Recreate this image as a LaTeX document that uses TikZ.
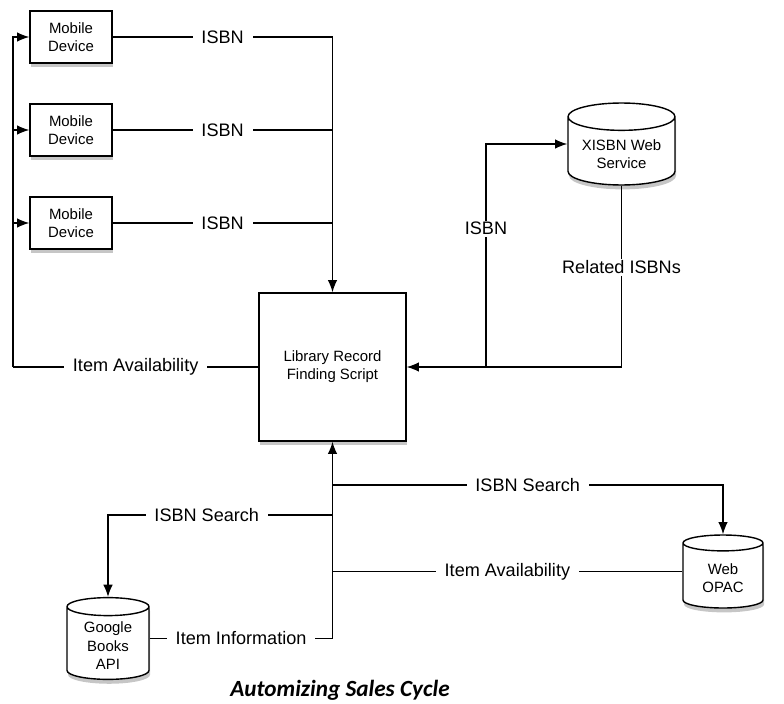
\documentclass[tikz,border=0pt]{standalone}
\usepackage{fontspec}
\setmainfont{Liberation Sans}
\newfontfamily\titlefont{Carlito}
\usetikzlibrary{shapes.geometric,shadows,arrows.meta}

\begin{document}
\begin{tikzpicture}[x=0.02cm, y=-0.02cm, line width=0.8pt,
  >={Latex[length=7pt,width=5.5pt]},
  device/.style = {rectangle, draw, fill=white, minimum width=1.64cm, minimum height=1.04cm,
                   align=center, font=\fontsize{8.5}{10.3}\selectfont,
                   drop shadow={opacity=0.45, shadow xshift=0.6pt, shadow yshift=-2.5pt}},
  scriptbox/.style = {device, minimum width=2.94cm, minimum height=2.96cm},
  store/.style = {cylinder, shape border rotate=90, aspect=0.3, draw, fill=white,
                  anchor=shape center, align=center, font=\fontsize{8.5}{10.3}\selectfont,
                  drop shadow={opacity=0.45, shadow xshift=0.6pt, shadow yshift=-2.5pt}},
  lbl/.style = {fill=white, inner xsep=5pt, inner ysep=1pt, font=\fontsize{10.3}{12}\selectfont},
  ]
  \useasboundingbox (0,0) rectangle (784,703);
  \node[device] (dev1) at (71,37) {Mobile\\Device};
  \node[device] (dev2) at (71,130) {Mobile\\Device};
  \node[device] (dev3) at (71,223) {Mobile\\Device};
  \node[scriptbox] (script) at (332.5,367) {Library Record\\Finding Script};
  \node[store, minimum width=2.14cm, minimum height=1.64cm] (xisbn) at (621.5,144) {XISBN Web\\Service};
  \node[store, minimum width=1.64cm, minimum height=1.58cm] (google) at (108,638.5) {Google\\Books\\API};
  \node[store, minimum width=1.6cm, minimum height=1.46cm] (opac) at (723,571.5) {Web\\OPAC};
  \node (title) at (340,690) {\titlefont\fontsize{13.2}{15}\selectfont\bfseries\itshape Automizing Sales Cycle};

  \coordinate (lft) at (13,367);
  \coordinate (up) at (486,367);
  \coordinate (srch) at (332.5,515);
  \coordinate (opsrch) at (332.5,485);

  \draw[->] (dev1.east) -- node[lbl] {ISBN} (dev1.east -| script.north) -- (script.north);
  \draw (dev2.east) -- node[lbl] {ISBN} (dev2.east -| script.north);
  \draw (dev3.east) -- node[lbl] {ISBN} (dev3.east -| script.north);

  \draw (script.west) -- node[lbl] {Item Availability} (lft);
  \draw[->] (lft) |- (dev1.west);
  \draw[->] (lft |- dev2.west) -- (dev2.west);
  \draw[->] (lft |- dev3.west) -- (dev3.west);

  \draw[->] (xisbn.south) -- node[lbl, pos=0.45] {Related ISBNs} (xisbn.south |- script.east) -- (script.east);
  \draw[->] (up) -- node[lbl, pos=0.62] {ISBN} (up |- xisbn.shape center) -- (xisbn.west |- xisbn.shape center);

  \draw[->] (google.east |- google.shape center) -- node[lbl] {Item Information} (google.shape center -| script.south) -- (script.south);
  \draw[->] (srch) -- node[lbl, pos=0.56] {ISBN Search} (srch -| google.north) -- (google.north);
  \draw[->] (opsrch) -- node[lbl] {ISBN Search} (opsrch -| opac.north) -- (opac.north);
  \draw (opac.west |- opac.shape center) -- node[lbl] {Item Availability} (opac.shape center -| script.south);
\end{tikzpicture}
\end{document}
